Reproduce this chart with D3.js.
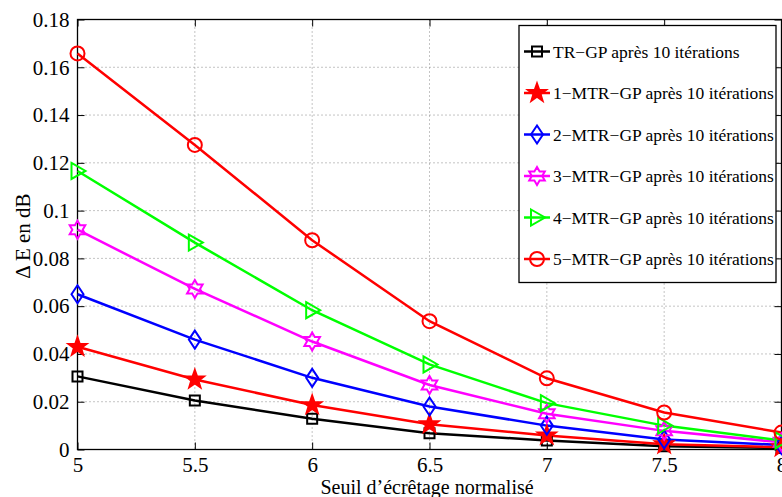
<!DOCTYPE html>
<html><head><meta charset="utf-8">
<script src="https://cdn.jsdelivr.net/npm/d3@7"></script>
<style>body{margin:0;background:#fff}svg{display:block}svg text{font-family:"Liberation Serif","Times New Roman","DejaVu Serif",serif !important;fill:#000}</style>
</head><body><svg id="c" width="782" height="497"></svg>
<script>
const xValues = [5, 5.5, 6, 6.5, 7, 7.5, 8];
const xTicks = [5, 5.5, 6, 6.5, 7, 7.5, 8];
const yTicks = [0, 0.02, 0.04, 0.06, 0.08, 0.1, 0.12, 0.14, 0.16, 0.18];
const seriesNames = ["TR\u2212GP après 10 itérations","1\u2212MTR\u2212GP après 10 itérations","2\u2212MTR\u2212GP après 10 itérations","3\u2212MTR\u2212GP après 10 itérations","4\u2212MTR\u2212GP après 10 itérations","5\u2212MTR\u2212GP après 10 itérations"];
const trGP   = [0.0306, 0.0205, 0.0129, 0.0068, 0.0038, 0.0014, 0.0006];
const mtr1   = [0.0430, 0.0293, 0.0186, 0.0106, 0.0059, 0.0022, 0.0010];
const mtr2   = [0.0650, 0.0460, 0.0300, 0.0180, 0.0100, 0.0042, 0.0019];
const mtr3   = [0.0920, 0.0672, 0.0452, 0.0270, 0.0150, 0.0078, 0.0030];
const mtr4   = [0.1166, 0.0866, 0.0583, 0.0356, 0.0194, 0.0100, 0.0038];
const mtr5   = [0.1658, 0.1275, 0.0876, 0.0537, 0.0298, 0.0155, 0.0071];
const colors = ["#000000","#ff0000","#0000ff","#ff00ff","#00ff00","#ff0000"];
const markers = ["square","pentagram","diamond","hexagram","triangle","circle"];
const allSeries = [trGP, mtr1, mtr2, mtr3, mtr4, mtr5];

const FONT = '"Liberation Serif","Times New Roman",serif';
const svg = d3.select("#c");
const L = 77.5, R = 781.5, T = 19.5, B = 449.5;
const x = d3.scaleLinear().domain([5, 8]).range([L, R]);
const y = d3.scaleLinear().domain([0, 0.18]).range([B, T]);

// grid
const g = svg.append("g");
g.selectAll(".gx").data(xTicks.slice(1, -1)).enter().append("line")
  .attr("x1", d => x(d)).attr("x2", d => x(d)).attr("y1", T).attr("y2", B)
  .attr("stroke", "#888").attr("stroke-width", 1).attr("stroke-dasharray", "1,3");
g.selectAll(".gy").data(yTicks.slice(1, -1)).enter().append("line")
  .attr("y1", d => y(d)).attr("y2", d => y(d)).attr("x1", L).attr("x2", R)
  .attr("stroke", "#888").attr("stroke-width", 1).attr("stroke-dasharray", "1,3");

// axes
const fmt = d => d === 0 ? "0" : String(+d.toFixed(2));
const ax = svg.append("g").attr("transform", `translate(0,${B})`)
  .call(d3.axisBottom(x).tickValues(xTicks).tickFormat(fmt).tickSize(-7).tickPadding(8));
const axTop = svg.append("g").attr("transform", `translate(0,${T})`)
  .call(d3.axisTop(x).tickValues(xTicks).tickFormat("").tickSize(-7));
const ay = svg.append("g").attr("transform", `translate(${L},0)`)
  .call(d3.axisLeft(y).tickValues(yTicks).tickFormat(fmt).tickSize(-7).tickPadding(8));
const ayR = svg.append("g").attr("transform", `translate(${R},0)`)
  .call(d3.axisRight(y).tickValues(yTicks).tickFormat("").tickSize(-7));
[ax, axTop, ay, ayR].forEach(a => {
  a.attr("font-family", FONT).attr("font-size", 21);
  a.select(".domain").remove();
  a.selectAll("line").attr("stroke", "#000").attr("stroke-width", 1);
  a.selectAll("text").attr("font-family", FONT).attr("font-size", 21).attr("fill", "#000");
});
ax.selectAll("text").attr("dy", "0.7em");
svg.append("rect").attr("x", L).attr("y", T).attr("width", R - L).attr("height", B - T)
  .attr("fill", "none").attr("stroke", "#000").attr("stroke-width", 1.3);

// marker shapes
function markerPath(type) {
  const p = d3.path();
  if (type === "square") { p.rect(-5, -5, 10, 10); return p.toString(); }
  if (type === "diamond") { return "M0,-9L6,0L0,9L-6,0Z"; }
  if (type === "triangle") { return "M-6,-8L8,0L-6,8Z"; }
  if (type === "circle") { p.arc(0, 0, 7, 0, 2 * Math.PI); return p.toString(); }
  if (type === "pentagram") {
    let d = "";
    for (let i = 0; i < 10; i++) {
      const r = i % 2 === 0 ? 9.5 : 3.8;
      const a = -Math.PI / 2 + i * Math.PI / 5;
      d += (i ? "L" : "M") + (r * Math.cos(a)).toFixed(2) + "," + (r * Math.sin(a)).toFixed(2);
    }
    return d + "Z";
  }
  if (type === "hexagram") {
    let d = "";
    for (let i = 0; i < 12; i++) {
      const r = i % 2 === 0 ? 9 : 5.2;
      const a = -Math.PI / 2 + i * Math.PI / 6;
      d += (i ? "L" : "M") + (r * Math.cos(a)).toFixed(2) + "," + (r * Math.sin(a)).toFixed(2);
    }
    return d + "Z";
  }
}

const line = d3.line().x((d, i) => x(xValues[i])).y(d => y(d));
const plot = svg.append("g");
allSeries.forEach((s, k) => {
  plot.append("path").datum(s).attr("d", line).attr("fill", "none")
    .attr("stroke", colors[k]).attr("stroke-width", 2.5);
});
allSeries.forEach((s, k) => {
  plot.selectAll(null).data(s).enter().append("path")
    .attr("transform", (d, i) => `translate(${x(xValues[i])},${y(d)})`)
    .attr("d", markerPath(markers[k]))
    .attr("fill", markers[k] === "pentagram" ? colors[k] : "none")
    .attr("stroke", colors[k]).attr("stroke-width", 2);
});

// legend
const lg = svg.append("g");
lg.append("rect").attr("x", 519).attr("y", 25.5).attr("width", 257).attr("height", 257)
  .attr("fill", "#fff").attr("stroke", "#000").attr("stroke-width", 1.3);
seriesNames.forEach((n, k) => {
  const cy = 51.5 + k * 41.5;
  lg.append("line").attr("x1", 524).attr("x2", 550).attr("y1", cy).attr("y2", cy)
    .attr("stroke", colors[k]).attr("stroke-width", 2.5);
  lg.append("path").attr("transform", `translate(537,${cy})`).attr("d", markerPath(markers[k]))
    .attr("fill", markers[k] === "pentagram" ? colors[k] : "none")
    .attr("stroke", colors[k]).attr("stroke-width", 2);
  lg.append("text").attr("x", 553).attr("y", cy).attr("dy", "0.35em")
    .attr("font-family", FONT).attr("font-size", 17.5).text(n);
});

// axis labels
svg.append("text").attr("x", 427).attr("y", 494).attr("text-anchor", "middle")
  .attr("font-family", FONT).attr("font-size", 20).text("Seuil d\u2019écrêtage normalisé");
svg.append("text").attr("transform", "translate(30,236) rotate(-90)").attr("text-anchor", "middle")
  .attr("font-family", FONT).attr("font-size", 21).text("\u0394 E en dB");
</script></body></html>
